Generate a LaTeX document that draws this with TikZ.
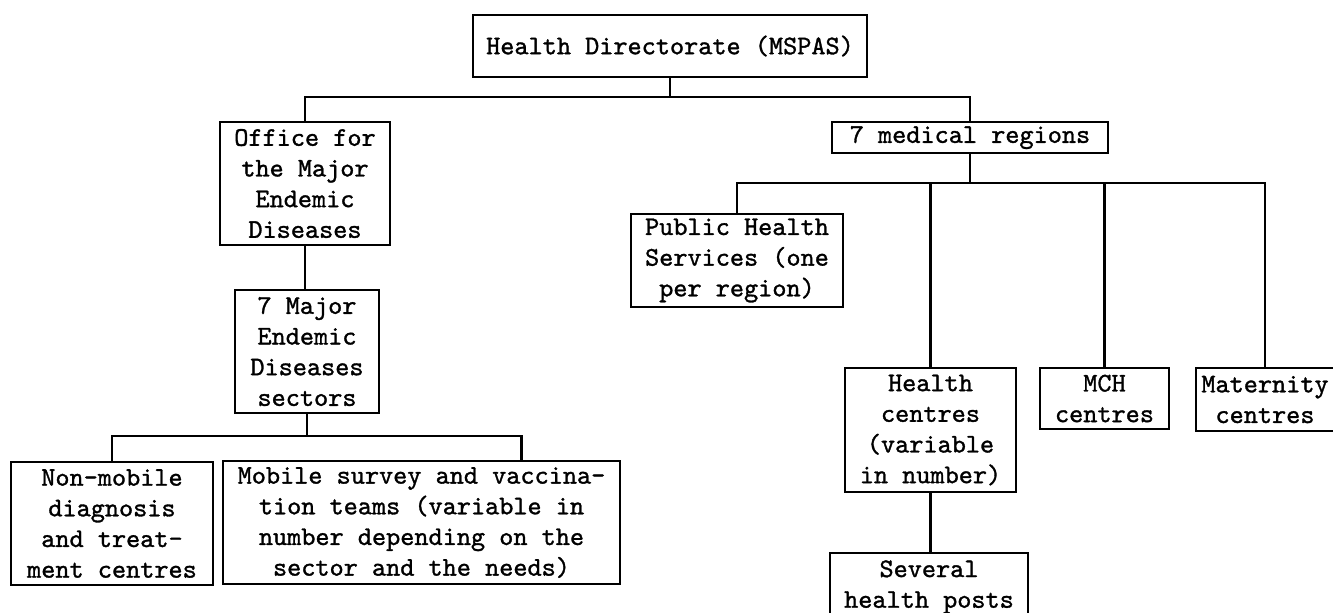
\documentclass[tikz,border=0pt]{standalone}
\usepackage{fontspec}
\newfontfamily\typew{lmmono10-regular.otf}[FakeBold=1.2]
\tikzstyle{box}=[draw,line width=1.8pt,inner sep=0pt,align=center,
  font={\typew\fontsize{20.2}{23}\selectfont}]
\tikzstyle{link}=[line width=1.8pt]
\tikzset{dims/.style 2 args={minimum width=#1*.75pt,minimum height=#2*.75pt}}

\begin{document}
\begin{tikzpicture}[x=.75pt, y=-.75pt]
  \useasboundingbox (0,0) rectangle (1333,612);

  \node[box, dims={394}{62}] (hd) at (670,46) {Health Directorate (MSPAS)};
  \node[box, dims={170}{123}] (off) at (305,183.5)
    {Office for\\the Major\\Endemic\\Diseases};
  \node[box, dims={276}{31}] (med) at (970,137.5) {7 medical regions};

  % left branch
  \node[box, dims={144}{123}] (sec) at (307,351.5)
    {7 Major\\Endemic\\Diseases\\sectors};
  \node[box, dims={202}{123}] (non) at (112,523.5)
    {Non-mobile\\diagnosis\\and treat-\\ment centres};
  \node[box, dims={397}{123}] (mob) at (421.5,522.5)
    {Mobile survey and vaccina-\\tion teams (variable in\\number depending on the\\sector and the needs)};

  % right branch
  \node[box, dims={212}{93}] (phs) at (737,260.5)
    {Public Health\\Services (one\\per region)};
  \node[box, dims={171}{124}] (hc) at (930.5,430)
    {Health\\centres\\(variable\\in number)};
  \node[box, dims={129}{61}] (mch) at (1104.5,398.5) {MCH\\centres};
  \node[box, dims={138}{63}] (mat) at (1265,399.5) {Maternity\\centres};
  \node[box, dims={198}{68}] (sev) at (929,587) {Several\\health posts};

  \draw[link] (hd.south) -- ++(0,19) coordinate (j1);
  \draw[link] (off.north) |- (j1) -| (med.north);
  \draw[link] (off.south) -- (off.south |- sec.north);
  \draw[link] (sec.south) -- ++(0,22) coordinate (j2);
  \draw[link] (non.north) |- (j2) -| ([xshift=75pt]mob.north);
  \draw[link] (med.south) -- ++(0,29) coordinate (j3);
  \draw[link] (phs.north) |- (j3) -| (mat.north);
  \foreach \n in {hc,mch}
    \draw[link] (\n.north) -- (\n.north |- j3);
  \draw[link] (hc.south) -- (hc.south |- sev.north);
\end{tikzpicture}
\end{document}
